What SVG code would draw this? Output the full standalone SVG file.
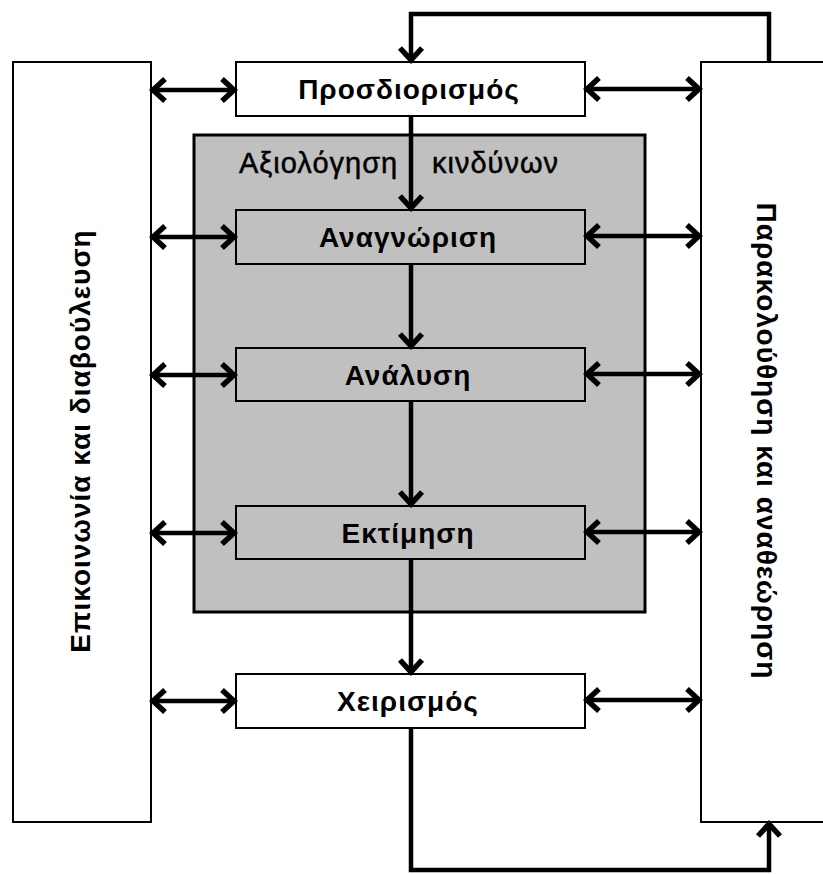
<svg xmlns="http://www.w3.org/2000/svg" width="823" height="874" viewBox="0 0 823 874">
<style>
.box{fill:#fff;stroke:#000;stroke-width:2}
.gbox{fill:#c0c0c0;stroke:#000;stroke-width:2}
.outer{fill:#c0c0c0;stroke:#000;stroke-width:3}
.lbl{font-family:"Liberation Sans",Arial,sans-serif;font-weight:bold;font-size:28px;letter-spacing:1px;fill:#000;text-anchor:middle}
.ttl{font-family:"Liberation Sans",Arial,sans-serif;font-size:29px;letter-spacing:1px;fill:#000;stroke:#000;stroke-width:0.5}
.ln{fill:none;stroke:#000;stroke-width:4.5}
</style>
<defs>
<marker id="ah" markerUnits="userSpaceOnUse" viewBox="-17 -15 21 30" refX="0" refY="0" markerWidth="21" markerHeight="30" orient="auto-start-reverse">
<path d="M-12,-11 L0,0 L-12,11" fill="none" stroke="#000" stroke-width="5.5"/>
</marker>
</defs>
<rect width="823" height="874" fill="#fff"/>
<g id="comm">
<rect class="box" x="13" y="62" width="138" height="760"/>
<text class="lbl" transform="translate(90,441) rotate(-90)">Επικοινωνία και διαβούλευση</text>
</g>
<g id="monitor">
<rect class="box" x="701" y="62" width="140" height="760"/>
<text class="lbl" transform="translate(757,441) rotate(90)">Παρακολούθηση και αναθεώρηση</text>
</g>
<g id="assessment">
<rect class="outer" x="194" y="135" width="451" height="477"/>
<text class="ttl"><tspan x="239" y="173">Αξιολόγηση</tspan> <tspan x="432" y="173">κινδύνων</tspan></text>
</g>
<g id="define">
<rect class="box" x="236" y="62" width="349" height="54"/>
<text class="lbl" x="409" y="99">Προσδιορισμός</text>
</g>
<g id="identify">
<rect class="gbox" x="236" y="210" width="349" height="54"/>
<text class="lbl" x="408" y="247">Αναγνώριση</text>
</g>
<g id="analyse">
<rect class="gbox" x="236" y="348" width="349" height="53"/>
<text class="lbl" x="408" y="385">Ανάλυση</text>
</g>
<g id="evaluate">
<rect class="gbox" x="236" y="506" width="349" height="53"/>
<text class="lbl" x="408" y="543">Εκτίμηση</text>
</g>
<g id="treat">
<rect class="box" x="236" y="674" width="349" height="54"/>
<text class="lbl" x="408" y="711">Χειρισμός</text>
</g>
<g id="connectors">
<path class="ln" d="M411,116 V208" marker-end="url(#ah)"/>
<path class="ln" d="M411,264 V346" marker-end="url(#ah)"/>
<path class="ln" d="M411,401 V504" marker-end="url(#ah)"/>
<path class="ln" d="M411,559 V672" marker-end="url(#ah)"/>
<path class="ln" d="M411,728 V870 H769 V824" marker-end="url(#ah)"/>
<path class="ln" d="M769,62 V14 H411 V60" marker-end="url(#ah)"/>
<path class="ln" d="M153,90 H234" marker-start="url(#ah)" marker-end="url(#ah)"/>
<path class="ln" d="M587,89 H699" marker-start="url(#ah)" marker-end="url(#ah)"/>
<path class="ln" d="M153,237 H234" marker-start="url(#ah)" marker-end="url(#ah)"/>
<path class="ln" d="M587,236 H699" marker-start="url(#ah)" marker-end="url(#ah)"/>
<path class="ln" d="M153,375 H234" marker-start="url(#ah)" marker-end="url(#ah)"/>
<path class="ln" d="M587,374 H699" marker-start="url(#ah)" marker-end="url(#ah)"/>
<path class="ln" d="M153,533 H234" marker-start="url(#ah)" marker-end="url(#ah)"/>
<path class="ln" d="M587,532 H699" marker-start="url(#ah)" marker-end="url(#ah)"/>
<path class="ln" d="M153,701 H234" marker-start="url(#ah)" marker-end="url(#ah)"/>
<path class="ln" d="M587,700 H699" marker-start="url(#ah)" marker-end="url(#ah)"/>
</g>
</svg>
